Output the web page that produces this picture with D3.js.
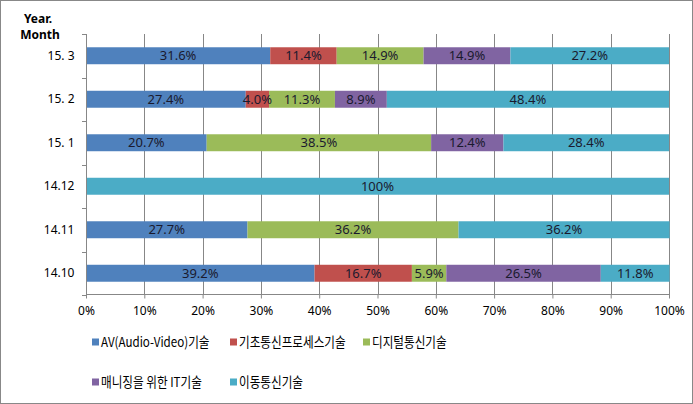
<!DOCTYPE html>
<html><head><meta charset="utf-8">
<script src="https://cdn.jsdelivr.net/npm/d3@7/dist/d3.min.js"></script>
<style>
body{margin:0;background:#fff;}
svg{display:block;}
</style></head>
<body>
<svg id="c" width="693" height="404"></svg>
<script>
const categories = ["15. 3", "15. 2", "15. 1", "14.12", "14.11", "14.10"];
const seriesNames = ["AV(Audio-Video)기술", "기초통신프로세스기술", "디지털통신기술", "매니징을 위한 IT기술", "이동통신기술"];
const av      = [31.6, 27.4, 20.7, 0, 27.7, 39.2];
const basic   = [11.4, 4.0, 0, 0, 0, 16.7];
const digital = [14.9, 11.3, 38.5, 0, 36.2, 5.9];
const manage  = [14.9, 8.9, 12.4, 0, 0, 26.5];
const mobile  = [27.2, 48.4, 28.4, 100, 36.2, 11.8];
const labels = [
  ["31.6%", "27.4%", "20.7%", "", "27.7%", "39.2%"],
  ["11.4%", "4.0%", "", "", "", "16.7%"],
  ["14.9%", "11.3%", "38.5%", "", "36.2%", "5.9%"],
  ["14.9%", "8.9%", "12.4%", "", "", "26.5%"],
  ["27.2%", "48.4%", "28.4%", "100%", "36.2%", "11.8%"]
];
const xTicks = [0,10,20,30,40,50,60,70,80,90,100];
const colors = ["#4F81BD", "#C0504D", "#9BBB59", "#8064A2", "#4BACC6"];

const series = [av, basic, digital, manage, mobile];
const svg = d3.select("#c");
const FONT = "'Noto Sans', 'Noto Sans CJK KR', sans-serif";

svg.append("rect").attr("x",0.5).attr("y",0.5).attr("width",692).attr("height",403)
  .attr("fill","#fff").attr("stroke","#888").attr("stroke-width",1);

const x = d3.scaleLinear().domain([0,100]).range([86,669]);
const y = d3.scaleBand().domain(categories).range([34,295]).paddingInner(0.61).paddingOuter(0.305);

// gridlines
svg.append("g").selectAll("line").data(xTicks.slice(1)).join("line")
  .attr("x1", d=>Math.round(x(d))+0.5).attr("x2", d=>Math.round(x(d))+0.5)
  .attr("y1",34).attr("y2",295).attr("stroke","#878787").attr("stroke-width",1);

// stacked data
const rows = categories.map((c,i)=>{ const o={cat:c, idx:i}; series.forEach((s,j)=>o["s"+j]=s[i]); return o; });
const stack = d3.stack().keys(series.map((s,j)=>"s"+j))(rows);

stack.forEach((layer,j)=>{
  svg.append("g").selectAll("rect").data(layer.filter(d=>d[1]-d[0]>0)).join("rect")
    .attr("x", d=>x(d[0])).attr("width", d=>x(d[1])-x(d[0]))
    .attr("y", d=>y(d.data.cat)).attr("height", y.bandwidth())
    .attr("fill", colors[j]);
});
stack.forEach((layer,j)=>{
  svg.append("g").selectAll("text").data(layer.filter(d=>labels[j][d.data.idx] !== "")).join("text")
    .attr("x", d=>(x(d[0])+x(d[1]))/2).attr("y", d=>y(d.data.cat)+y.bandwidth()/2)
    .attr("dy","0.36em").attr("text-anchor","middle")
    .attr("font-family",FONT).attr("font-size",13).attr("fill","#1a1a2e")
    .text(d=>labels[j][d.data.idx]);
});

// x axis
const xAxis = d3.axisBottom(x).tickValues(xTicks).tickFormat(d=>d+"%").tickSize(4).tickPadding(8);
const gx = svg.append("g").attr("transform","translate(0,294.5)").call(xAxis);
gx.select(".domain").attr("stroke","#878787").attr("d","M86,0H669");
gx.selectAll(".tick line").attr("stroke","#878787");
gx.selectAll("text").attr("font-family",FONT).attr("font-size",12).attr("fill","#000");

// y axis
const yAxis = d3.axisLeft(y).tickSize(0).tickPadding(12);
const gy = svg.append("g").attr("transform","translate(86.5,0)").call(yAxis);
gy.select(".domain").attr("stroke","#878787").attr("d","M0,34V295");
gy.selectAll("text").attr("font-family",FONT).attr("font-size",12).attr("fill","#000");
// band boundary ticks
const bounds = d3.range(categories.length+1).map(i=>34 + i*(295-34)/categories.length);
svg.append("g").selectAll("line").data(bounds).join("line")
  .attr("x1",82).attr("x2",86.5).attr("y1",d=>Math.round(d)+0.5).attr("y2",d=>Math.round(d)+0.5)
  .attr("stroke","#878787");

// title
const t = svg.append("text").attr("font-family",FONT).attr("font-size",12).attr("font-weight","bold")
  .attr("text-anchor","middle").attr("fill","#000");
t.append("tspan").attr("x",38).attr("y",23).text("Year.");
t.append("tspan").attr("x",40).attr("y",39).text("Month");

// legend
const legendPos = [[92,342],[230,342],[363,342],[92,382],[230,382]];
const lg = svg.append("g");
seriesNames.forEach((n,j)=>{
  const [lx,ly] = legendPos[j];
  lg.append("rect").attr("x",lx).attr("y",ly-3.5).attr("width",7).attr("height",7).attr("fill",colors[j]);
  lg.append("text").attr("transform",`translate(${lx+9},${ly}) scale(0.86,1)`).attr("dy","0.36em")
    .attr("font-family","'Noto Sans CJK KR', sans-serif").attr("font-size",13.5).attr("fill","#000").text(n);
});
</script>
</body></html>
